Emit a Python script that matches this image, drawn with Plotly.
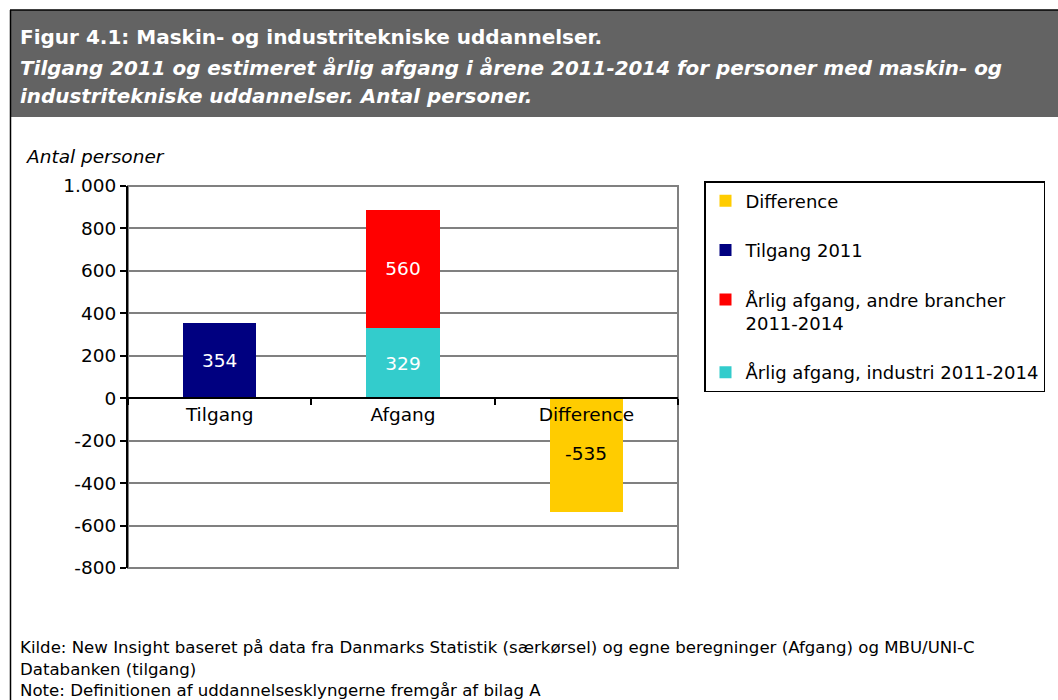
import plotly.graph_objects as go

# ---- data ----
categories = ["Tilgang", "Afgang", "Difference"]
tilgang_2011 = [354]
afgang_industri = [329]
afgang_andre = [560]
difference = [-535]
y_ticks = [1000, 800, 600, 400, 200, 0, -200, -400, -600, -800]
y_tick_labels = [f"{v:,}".replace(",", ".") for v in y_ticks]

title = "Figur 4.1: Maskin- og industritekniske uddannelser."
subtitle_lines = [
    "Tilgang 2011 og estimeret årlig afgang i årene 2011-2014 for personer med maskin- og",
    "industritekniske uddannelser. Antal personer.",
]
source_lines = [
    "Kilde: New Insight baseret på data fra Danmarks Statistik (særkørsel) og egne beregninger (Afgang) og MBU/UNI-C",
    "Databanken (tilgang)",
    "Note: Definitionen af uddannelsesklyngerne fremgår af bilag A",
]

FONT = "'DejaVu Sans', Arial, sans-serif"
FS = 18.5
W, H = 1058, 700
L, R, T, B = 128, 678, 186, 568  # plot area in page pixels


def px(x):
    return (x - L) / (R - L)


def py(y):
    return (B - y) / (B - T)


fig = go.Figure()
fig.add_trace(go.Bar(x=[categories[0]], y=tilgang_2011, name="Tilgang 2011",
                     marker_color="#000080", text=[str(v) for v in tilgang_2011],
                     textposition="inside", insidetextanchor="middle",
                     textfont=dict(color="white", size=FS, family=FONT),
                     legendrank=2, legendgroup="b"))
fig.add_trace(go.Bar(x=[categories[1]], y=afgang_industri, name="Årlig afgang, industri 2011-2014",
                     marker_color="#33CCCC", text=[str(v) for v in afgang_industri],
                     textposition="inside", insidetextanchor="middle",
                     textfont=dict(color="white", size=FS, family=FONT),
                     legendrank=4, legendgroup="d"))
fig.add_trace(go.Bar(x=[categories[1]], y=afgang_andre, name="Årlig afgang, andre brancher<br>2011-2014",
                     marker_color="#FF0000", text=[str(v) for v in afgang_andre],
                     textposition="inside", insidetextanchor="middle",
                     textfont=dict(color="white", size=FS, family=FONT),
                     legendrank=3, legendgroup="c"))
fig.add_trace(go.Bar(x=[categories[2]], y=difference, name="Difference",
                     marker_color="#FFCC00", textposition="none",
                     legendrank=1, legendgroup="a"))

fig.update_traces(marker_line_width=0, width=0.4, hoverinfo="skip")

annotations = [
    dict(text=f"<b>{title}</b>", x=px(18), y=py(37), xref="paper", yref="paper",
         xanchor="left", yanchor="middle", showarrow=False, align="left",
         font=dict(color="white", size=20, family=FONT)),
    dict(text=f"<b><i>{subtitle_lines[0]}</i></b>", x=px(18), y=py(68), xref="paper", yref="paper",
         xanchor="left", yanchor="middle", showarrow=False, align="left",
         font=dict(color="white", size=19.9, family=FONT)),
    dict(text=f"<b><i>{subtitle_lines[1]}</i></b>", x=px(18), y=py(97), xref="paper", yref="paper",
         xanchor="left", yanchor="middle", showarrow=False, align="left",
         font=dict(color="white", size=19.9, family=FONT)),
    dict(text="<i>Antal personer</i>", x=px(24), y=py(157), xref="paper", yref="paper",
         xanchor="left", yanchor="middle", showarrow=False,
         font=dict(color="black", size=FS, family=FONT)),
    dict(text=str(difference[0]), x=categories[2], y=difference[0] * 0.485, xref="x", yref="y",
         xanchor="center", yanchor="middle", showarrow=False,
         font=dict(color="black", size=FS, family=FONT)),
    dict(text=source_lines[0], x=px(18), y=py(647), xref="paper", yref="paper",
         xanchor="left", yanchor="middle", showarrow=False, align="left",
         font=dict(color="black", size=16.6, family=FONT)),
    dict(text=source_lines[1], x=px(18), y=py(669), xref="paper", yref="paper",
         xanchor="left", yanchor="middle", showarrow=False, align="left",
         font=dict(color="black", size=16.6, family=FONT)),
    dict(text=source_lines[2], x=px(18), y=py(690), xref="paper", yref="paper",
         xanchor="left", yanchor="middle", showarrow=False, align="left",
         font=dict(color="black", size=16.6, family=FONT)),
]

shapes = [
    dict(type="rect", xref="paper", yref="paper", x0=px(10), x1=px(1062), y0=py(117), y1=py(10),
         fillcolor="#636363", line=dict(width=0), layer="below"),
    dict(type="line", xref="paper", yref="paper", x0=px(10), x1=px(1062), y0=py(10), y1=py(10),
         line=dict(color="black", width=1.5)),
    dict(type="line", xref="paper", yref="paper", x0=px(10.5), x1=px(10.5), y0=py(10), y1=py(710),
         line=dict(color="black", width=1.5)),
    dict(type="rect", xref="paper", yref="paper", x0=0, x1=1, y0=0, y1=1,
         line=dict(color="#808080", width=2), layer="below"),
]

fig.update_layout(
    width=W, height=H,
    margin=dict(l=L, r=W - R, t=T, b=H - B, pad=0),
    paper_bgcolor="white", plot_bgcolor="white",
    barmode="stack", bargap=0.6,
    font=dict(family=FONT, size=FS, color="black"),
    showlegend=True,
    legend=dict(x=px(704), y=py(181), xanchor="left", yanchor="top",
                bordercolor="black", borderwidth=1.5, bgcolor="white",
                traceorder="grouped", tracegroupgap=23, valign="top",
                font=dict(size=18, family=FONT, color="black"),
                itemwidth=30),
    xaxis=dict(type="category", categoryorder="array", categoryarray=categories,
               anchor="free", position=800 / 1800, showline=True, linecolor="black", linewidth=2,
               ticks="outside", tickson="boundaries", ticklen=6, tickcolor="black", tickwidth=1.5,
               showgrid=False, tickfont=dict(size=FS, family=FONT, color="black")),
    yaxis=dict(range=[-800, 1000], tickvals=y_ticks, ticktext=y_tick_labels,
               showline=True, linecolor="black", linewidth=2,
               ticks="outside", ticklen=6, tickcolor="black", tickwidth=1.5,
               showgrid=True, gridcolor="#808080", gridwidth=2,
               zeroline=True, zerolinecolor="black", zerolinewidth=2,
               tickfont=dict(size=FS, family=FONT, color="black")),
    annotations=annotations, shapes=shapes,
)

fig.write_html(
    "out.html",
    config={"displayModeBar": False},
    post_script="document.body.style.margin='0px';document.body.style.overflow='hidden';",
)
